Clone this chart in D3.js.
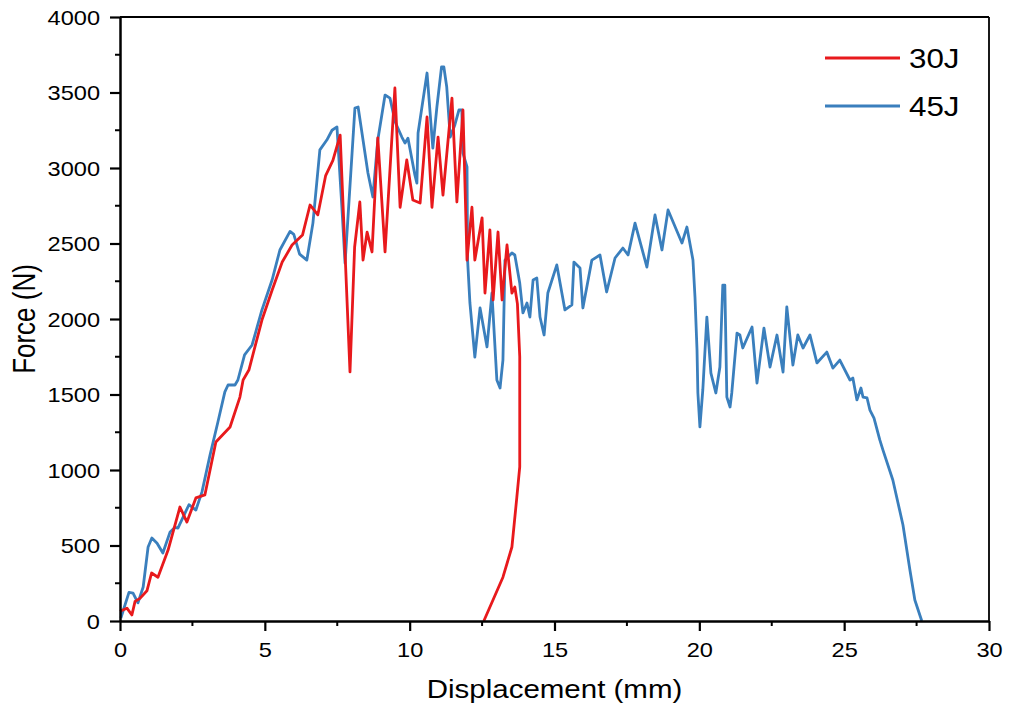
<!DOCTYPE html>
<html>
<head>
<meta charset="utf-8">
<script src="https://cdn.jsdelivr.net/npm/d3@7"></script>
<style>
  body { margin: 0; background: #fff; }
  text { font-family: "Liberation Sans", Arial, sans-serif; fill: #000; }
</style>
</head>
<body>
<script>
// 30J series (displacement mm, force N)
var disp30 = [0, 0.24, 0.41, 0.52, 0.69, 0.93, 1.09, 1.31, 1.66, 2.07, 2.31, 2.62, 2.93, 3.31, 3.8, 4.14, 4.25, 4.45, 4.9, 5.25, 5.6, 5.94, 6.3, 6.56, 6.83, 7.1, 7.35, 7.6, 7.94, 8.1, 8.28, 8.39, 8.53, 8.7, 8.9, 9.15, 9.49, 9.67, 9.9, 10.11, 10.36, 10.6, 10.77, 10.98, 11.15, 11.46, 11.63, 11.84, 11.98, 12.15, 12.25, 12.5, 12.6, 12.77, 12.88, 13.05, 13.19, 13.36, 13.53, 13.63, 13.72, 13.8, 13.8, 13.7, 13.53, 13.22, 12.56];
var force30 = [65, 85, 40, 130, 150, 200, 318, 290, 470, 755, 655, 815, 835, 1185, 1285, 1483, 1596, 1662, 1993, 2190, 2377, 2490, 2556, 2755, 2690, 2950, 3050, 3218, 1650, 2477, 2775, 2390, 2575, 2444, 3200, 2444, 3530, 2740, 3053, 2788, 2768, 3338, 2740, 3205, 2820, 3463, 2775, 3384, 2390, 2740, 2390, 2670, 2172, 2590, 2126, 2576, 2126, 2490, 2172, 2212, 2100, 1750, 1020, 820, 490, 290, 0];

// 45J series
var disp45 = [0.03, 0.31, 0.45, 0.62, 0.8, 0.97, 1.1, 1.28, 1.48, 1.73, 1.9, 2.0, 2.38, 2.62, 2.83, 3.11, 3.38, 3.62, 3.73, 3.97, 4.07, 4.3, 4.56, 4.9, 5.25, 5.52, 5.87, 6.0, 6.2, 6.45, 6.66, 6.9, 7.14, 7.32, 7.49, 7.66, 7.77, 8.11, 8.22, 8.56, 8.73, 8.9, 9.15, 9.32, 9.5, 9.73, 9.84, 9.94, 10.18, 10.25, 10.29, 10.6, 10.8, 10.94, 11.1, 11.18, 11.28, 11.4, 11.56, 11.7, 11.8, 11.84, 11.98, 12.0, 12.08, 12.25, 12.43, 12.67, 12.84, 13.01, 13.12, 13.22, 13.29, 13.53, 13.63, 13.8, 13.91, 14.05, 14.15, 14.26, 14.39, 14.5, 14.64, 14.77, 15.08, 15.36, 15.6, 15.67, 15.88, 15.98, 16.29, 16.57, 16.8, 17.09, 17.36, 17.54, 17.78, 18.19, 18.47, 18.71, 18.92, 19.4, 19.57, 19.78, 19.85, 19.92, 19.95, 20.02, 20.12, 20.26, 20.4, 20.57, 20.71, 20.81, 20.88, 20.95, 21.06, 21.12, 21.3, 21.4, 21.5, 21.82, 21.99, 22.23, 22.44, 22.68, 22.89, 23.02, 23.23, 23.4, 23.58, 23.82, 24.06, 24.4, 24.61, 24.85, 25.2, 25.3, 25.44, 25.58, 25.65, 25.79, 25.89, 26.03, 26.23, 26.34, 26.68, 27.03, 27.27, 27.44, 27.68];
var force45 = [20, 190, 185, 120, 225, 490, 550, 515, 450, 590, 620, 615, 770, 735, 855, 1100, 1318, 1517, 1563, 1563, 1596, 1762, 1828, 2060, 2258, 2457, 2580, 2560, 2430, 2390, 2635, 3120, 3185, 3250, 3272, 2740, 2370, 3397, 3404, 2967, 2808, 3185, 3483, 3463, 3305, 3205, 3165, 3198, 2954, 2900, 3232, 3629, 3132, 3404, 3669, 3669, 3536, 3205, 3285, 3384, 3384, 3099, 3007, 2390, 2106, 1748, 2073, 1815, 2172, 1596, 1543, 1728, 2390, 2437, 2424, 2238, 2040, 2106, 2013, 2258, 2271, 2013, 1894, 2172, 2358, 2060, 2093, 2377, 2338, 2073, 2390, 2424, 2179, 2404, 2470, 2424, 2635, 2344, 2689, 2457, 2722, 2503, 2609, 2391, 2146, 1795, 1510, 1285, 1530, 2013, 1642, 1510, 1682, 2225, 2225, 1483, 1417, 1510, 1907, 1894, 1808, 1947, 1576, 1940, 1682, 1894, 1649, 2080, 1695, 1894, 1808, 1894, 1709, 1781, 1675, 1728, 1596, 1609, 1464, 1543, 1483, 1477, 1397, 1344, 1199, 1132, 934, 636, 338, 139, 0];

var seriesNames = ["30J", "45J"];
var seriesColors = ["#e8191c", "#3a7fbd"];
var xTicks = [0, 5, 10, 15, 20, 25, 30];
var yTicks = [0, 500, 1000, 1500, 2000, 2500, 3000, 3500, 4000];

function drawChart() {
  var width = 1009, height = 712;
  var plotLeft = 120, plotRight = 989, plotTop = 17, plotBottom = 621;
  var stretch = 1.18; // text in the picture is a bit wider than tall

  var svg = d3.select("body").append("svg")
    .attr("width", width)
    .attr("height", height);

  var x = d3.scaleLinear().domain([0, 30]).range([plotLeft, plotRight]);
  var y = d3.scaleLinear().domain([0, 4000]).range([plotBottom, plotTop]);

  // minor ticks
  var xMinor = d3.range(2.5, 30, 5);
  var yMinor = d3.range(250, 4000, 500);
  svg.append("g").selectAll("line").data(xMinor).enter().append("line")
    .attr("x1", function(d){ return x(d); }).attr("x2", function(d){ return x(d); })
    .attr("y1", plotBottom).attr("y2", plotBottom + 5)
    .attr("stroke", "#000").attr("stroke-width", 2);
  svg.append("g").selectAll("line").data(yMinor).enter().append("line")
    .attr("y1", function(d){ return y(d); }).attr("y2", function(d){ return y(d); })
    .attr("x1", plotLeft).attr("x2", plotLeft - 5)
    .attr("stroke", "#000").attr("stroke-width", 2);

  // frame top/right
  svg.append("line").attr("x1", plotLeft).attr("x2", plotRight).attr("y1", plotTop).attr("y2", plotTop)
    .attr("stroke", "#000").attr("stroke-width", 1.8);
  svg.append("line").attr("x1", plotRight).attr("x2", plotRight).attr("y1", plotTop).attr("y2", plotBottom)
    .attr("stroke", "#000").attr("stroke-width", 1.8);

  // curves
  var line = d3.line()
    .x(function(d){ return x(d[0]); })
    .y(function(d){ return y(d[1]); });

  var data30 = disp30.map(function(d, i){ return [d, force30[i]]; });
  var data45 = disp45.map(function(d, i){ return [d, force45[i]]; });

  svg.append("path").datum(data45)
    .attr("d", line).attr("fill", "none")
    .attr("stroke", seriesColors[1]).attr("stroke-width", 2.8)
    .attr("stroke-linejoin", "round");
  svg.append("path").datum(data30)
    .attr("d", line).attr("fill", "none")
    .attr("stroke", seriesColors[0]).attr("stroke-width", 2.8)
    .attr("stroke-linejoin", "round");

  // axes
  var xAxis = svg.append("g")
    .attr("transform", "translate(0," + plotBottom + ")")
    .call(d3.axisBottom(x).tickValues(xTicks).tickSize(10).tickSizeOuter(0).tickFormat(d3.format("d")));
  var yAxis = svg.append("g")
    .attr("transform", "translate(" + plotLeft + ",0)")
    .call(d3.axisLeft(y).tickValues(yTicks).tickSize(10).tickSizeOuter(0).tickFormat(d3.format("d")));

  [xAxis, yAxis].forEach(function(a){
    a.attr("font-size", 20).attr("font-family", null);
    a.select(".domain").attr("stroke-width", 2.5);
    a.selectAll(".tick line").attr("stroke-width", 2.2);
    a.selectAll("text").attr("fill", "#000");
  });
  xAxis.selectAll("text")
    .attr("dy", null).attr("y", 36)
    .attr("transform", "scale(" + stretch + ",1)");
  yAxis.selectAll("text")
    .attr("x", -20 / stretch).attr("dy", "0.36em")
    .attr("transform", "scale(" + stretch + ",1)");

  // axis titles
  svg.append("text")
    .attr("transform", "translate(" + ((plotLeft + plotRight) / 2) + ",698) scale(" + stretch + ",1)")
    .attr("text-anchor", "middle")
    .attr("font-size", 25)
    .text("Displacement (mm)");
  svg.append("text")
    .attr("transform", "translate(35," + ((plotTop + plotBottom) / 2) + ") scale(" + stretch + ",1) rotate(-90)")
    .attr("text-anchor", "middle")
    .attr("font-size", 26)
    .text("Force (N)");

  // legend
  var legend = svg.append("g").selectAll("g").data(seriesNames).enter().append("g")
    .attr("transform", function(d, i){ return "translate(825," + (58 + i * 48) + ")"; });
  legend.append("line")
    .attr("x1", 0).attr("x2", 75).attr("y1", 0).attr("y2", 0)
    .attr("stroke", function(d, i){ return seriesColors[i]; })
    .attr("stroke-width", 2.8);
  legend.append("text")
    .attr("transform", "translate(84,10) scale(1.12,1)")
    .attr("font-size", 28)
    .text(function(d){ return d; });
}

drawChart();
</script>
</body>
</html>
